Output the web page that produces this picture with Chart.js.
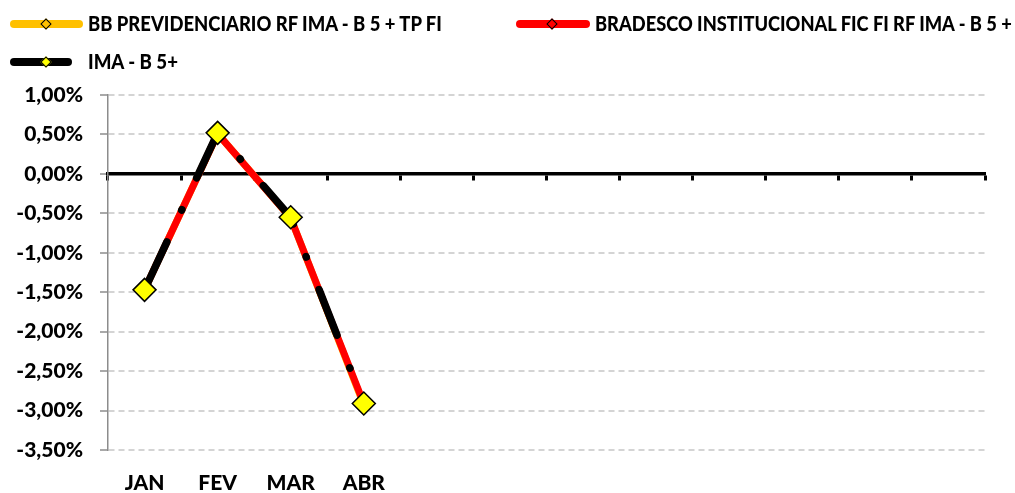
<!DOCTYPE html>
<html>
<head>
<meta charset="utf-8">
<script src="https://cdn.jsdelivr.net/npm/chart.js@4.4.1/dist/chart.umd.min.js"></script>
<style>
    html, body { margin: 0; padding: 0; background: #fff; }
    #wrap { position: relative; width: 1015px; height: 493px; overflow: hidden; }
    #chart { position: absolute; left: 0; top: 0; }
    .leg-text { position: absolute; font-family: Lato, sans-serif; font-weight: 900; font-size: 20px; line-height: 20px; color: #000; white-space: nowrap; transform-origin: 0 50%; }
    .leg-line { position: absolute; height: 8px; border-radius: 4px; }
    .leg-mark { position: absolute; width: 6px; height: 6px; border: 1.5px solid #000; transform: rotate(45deg); }
</style>
</head>
<body>
<div id="wrap">
    <canvas id="chart" width="1015" height="493"></canvas>
</div>
<script>
    // months on the x axis (only Jan-Apr reported, rest of the year left blank)
    var months = ['JAN', 'FEV', 'MAR', 'ABR', '', '', '', '', '', '', '', ''];

    var seriesNames = [
        'BB PREVIDENCIARIO RF IMA - B 5 + TP FI',
        'BRADESCO INSTITUCIONAL FIC FI RF IMA - B 5 +',
        'IMA - B 5+'
    ];

    // monthly returns, in %
    var bbPrevidenciario = [-1.47, 0.51, -0.56, -2.93];
    var bradescoInst = [-1.47, 0.51, -0.56, -2.91];
    var imaB5 = [-1.47, 0.52, -0.55, -2.91];

    var yMin = -3.5;
    var yMax = 1.0;
    var yStep = 0.5;

    var lineColors = ['#FFC000', '#FF0000', '#000000'];
    var markColors = ['#FFC000', '#FF0000', '#FFFF00'];

    //legend is plain html: line swatch + diamond + label (label squeezed to the calibri width)
    var legendSpots = [
        { x: 10, y: 24, len: 73, tx: 88, w: 354 },
        { x: 516, y: 24, len: 74, tx: 595, w: 417 },
        { x: 10, y: 62, len: 62, tx: 88, w: 90 }
    ];
    var wrap = document.getElementById('wrap');
    seriesNames.forEach(function(name, i) {
        var s = legendSpots[i];
        var line = document.createElement('div');
        line.className = 'leg-line';
        line.style.left = s.x + 'px';
        line.style.top = (s.y - 4) + 'px';
        line.style.width = s.len + 'px';
        line.style.background = lineColors[i];
        wrap.appendChild(line);
        var mark = document.createElement('div');
        mark.className = 'leg-mark';
        mark.style.left = (s.x + 32) + 'px';
        mark.style.top = (s.y - 4.5) + 'px';
        mark.style.background = markColors[i];
        wrap.appendChild(mark);
        var txt = document.createElement('div');
        txt.className = 'leg-text';
        txt.style.left = s.tx + 'px';
        txt.style.top = (s.y - 11) + 'px';
        txt.textContent = name;
        wrap.appendChild(txt);
        var natural = txt.getBoundingClientRect().width;
        txt.style.transform = 'scaleX(' + (s.w / natural).toFixed(3) + ')';
    });

    function pctLabel(v) {
        if (Math.abs(v) < 1e-9) v = 0;
        return v.toFixed(2).replace('.', ',') + '%';
    }

    var ctx = document.getElementById('chart').getContext('2d');
    new Chart(ctx, {
        type: 'line',
        data: {
            labels: months,
            datasets: [{
                label: seriesNames[0],
                data: bbPrevidenciario,
                borderColor: lineColors[0],
                borderWidth: 7,
                pointStyle: 'rectRot',
                pointRadius: 4,
                pointBackgroundColor: markColors[0],
                pointBorderColor: '#000',
                pointBorderWidth: 1,
                tension: 0,
                order: 3
            }, {
                label: seriesNames[1],
                data: bradescoInst,
                borderColor: lineColors[1],
                borderWidth: 7,
                pointStyle: 'rectRot',
                pointRadius: 4,
                pointBackgroundColor: markColors[1],
                pointBorderColor: '#000',
                pointBorderWidth: 1,
                tension: 0,
                order: 2
            }, {
                label: seriesNames[2],
                data: imaB5,
                borderColor: lineColors[2],
                borderWidth: 7.5,
                borderDash: [49, 35, 0.5, 35],
                borderDashOffset: -4,
                borderCapStyle: 'round',
                borderJoinStyle: 'round',
                pointStyle: 'rectRot',
                pointRadius: 11.5,
                pointBackgroundColor: markColors[2],
                pointBorderColor: '#000',
                pointBorderWidth: 1.5,
                tension: 0,
                order: 1
            }]
        },
        options: {
            responsive: false,
            animation: false,
            layout: { padding: { left: 0, right: 30, top: 95, bottom: 0 } },
            plugins: {
                legend: { display: false },
                tooltip: { enabled: false }
            },
            scales: {
                x: {
                    type: 'category',
                    offset: true,
                    grid: { display: false, drawTicks: false },
                    border: { display: false },
                    ticks: {
                        autoSkip: false,
                        maxRotation: 0,
                        padding: 21,
                        color: '#000',
                        font: { family: 'Lato', weight: '900', size: 21 }
                    },
                    afterFit: function(scale) { scale.height = 43; }
                },
                // zero line with the little boundary ticks hanging under it
                xZero: {
                    type: 'category',
                    axis: 'x',
                    position: { y: 0 },
                    offset: true,
                    grid: {
                        offset: true,
                        drawOnChartArea: false,
                        drawTicks: true,
                        tickLength: 5,
                        tickWidth: 3,
                        tickColor: '#000'
                    },
                    border: { display: true, color: '#000', width: 3.5 },
                    ticks: { display: false }
                },
                y: {
                    min: yMin,
                    max: yMax,
                    ticks: {
                        stepSize: yStep,
                        padding: 17,
                        color: '#000',
                        font: { family: 'Lato', weight: '900', size: 21 },
                        callback: function(v) { return pctLabel(v); }
                    },
                    grid: {
                        color: '#d4d4d4',
                        lineWidth: 2,
                        borderDash: [6, 4],
                        tickLength: 8,
                        tickColor: '#8c8c8c',
                        tickWidth: 1.5,
                        tickBorderDash: []
                    },
                    border: { display: true, color: '#8c8c8c', width: 1.5, dash: [6, 4] },
                    afterFit: function(scale) { scale.width = 108; }
                }
            }
        }
    });
</script>
</body>
</html>
